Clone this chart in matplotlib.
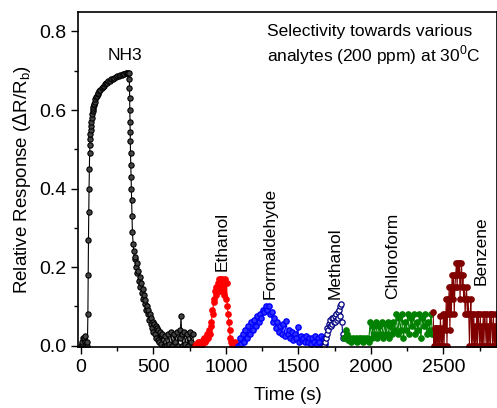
import matplotlib.pyplot as plt
import numpy as np

plt.rcParams['font.family'] = ['Liberation Sans', 'DejaVu Sans']

# NH3 (explicit times, s)
nh3_t = [0, 5, 10, 15, 20, 25, 30, 35, 40, 45, 48, 50, 52, 54, 56, 58, 60, 62, 64, 66, 68,
         70, 72, 75, 78, 80, 83, 85, 88, 90, 95, 100, 105, 110, 115, 120, 128, 135, 143,
         150, 158, 165, 173, 180, 190, 200, 210, 220, 230, 240, 250, 260, 270, 280, 290,
         300, 308, 315, 323, 330, 334, 335, 336, 337, 338, 339, 340, 342, 344, 346, 348,
         350, 352, 355, 360, 365, 370, 375, 380, 385, 390, 395, 400, 405, 410, 415, 420,
         425, 430, 435, 440, 445, 450, 455, 460, 465, 470, 475, 480, 485, 490, 495, 500,
         505, 510, 515, 520, 525, 530, 535, 540, 545, 550, 560, 570, 580, 590, 600, 610,
         620, 630, 640, 650, 660, 670, 680, 685, 690, 695, 700, 710, 720, 730, 740, 750,
         760, 770, 780]
nh3_r = [0.0, 0.005, 0.01, 0.02, 0.02, 0.025, 0.01, 0.005, 0.0, 0.01, 0.08, 0.18, 0.27,
         0.34, 0.40, 0.45, 0.49, 0.51, 0.525, 0.54, 0.55, 0.56, 0.57, 0.58, 0.59, 0.597,
         0.603, 0.607, 0.612, 0.615, 0.621, 0.627, 0.632, 0.636, 0.64, 0.643, 0.648, 0.652,
         0.656, 0.659, 0.662, 0.665, 0.668, 0.67, 0.673, 0.675, 0.678, 0.68, 0.682, 0.684,
         0.686, 0.687, 0.689, 0.69, 0.691, 0.692, 0.693, 0.693, 0.694, 0.695, 0.68, 0.655,
         0.63, 0.60, 0.57, 0.545, 0.52, 0.49, 0.46, 0.43, 0.40, 0.37, 0.33, 0.29, 0.26,
         0.24, 0.22, 0.225, 0.20, 0.21, 0.185, 0.19, 0.165, 0.175, 0.15, 0.16, 0.135,
         0.145, 0.12, 0.13, 0.105, 0.115, 0.09, 0.10, 0.08, 0.09, 0.065, 0.08, 0.055, 0.07,
         0.045, 0.06, 0.035, 0.055, 0.03, 0.05, 0.02, 0.045, 0.015, 0.04, 0.01, 0.035,
         0.005, 0.03, 0.0, 0.025, 0.0, 0.03, 0.005, 0.035, 0.0, 0.03, 0.01, 0.035, 0.0,
         0.04, 0.02, 0.075, 0.03, 0.0, 0.035, 0.005, 0.03, 0.0, 0.035, 0.01, 0.03, 0.0]

# the others are sampled at a fixed step from a start time
eth_start, eth_step = 790, 5
eth_r = [0.0, 0.005, 0.0, 0.01, 0.0, 0.005, 0.01, 0.0, 0.01, 0.005, 0.015, 0.01, 0.02,
         0.01, 0.02, 0.015, 0.03, 0.02, 0.03, 0.04, 0.03, 0.06, 0.05, 0.09, 0.08, 0.12,
         0.11, 0.14, 0.13, 0.15, 0.14, 0.16, 0.15, 0.17, 0.14, 0.17, 0.15, 0.17, 0.14,
         0.16, 0.13, 0.17, 0.12, 0.16, 0.10, 0.08, 0.06, 0.04, 0.02, 0.01, 0.0, 0.01, 0.0,
         0.005, 0.0, 0.01, 0.0, 0.005, 0.0]

form_start, form_step = 1085, 10
form_r = [0.0, 0.02, 0.005, 0.03, 0.01, 0.04, 0.02, 0.05, 0.03, 0.06, 0.04, 0.065, 0.05,
          0.075, 0.06, 0.08, 0.07, 0.09, 0.085, 0.10, 0.09, 0.10, 0.08, 0.085, 0.06, 0.07,
          0.045, 0.06, 0.035, 0.05, 0.03, 0.055, 0.025, 0.063, 0.03, 0.04, 0.02, 0.035,
          0.015, 0.03, 0.02, 0.048, 0.01, 0.025, 0.015, 0.02, 0.01, 0.025, 0.01, 0.02,
          0.005, 0.02, 0.01, 0.025, 0.005, 0.02, 0.01, 0.025, 0.0, 0.02, 0.005]

meth_start, meth_step = 1680, 5
meth_r = [0.0, 0.01, 0.02, 0.03, 0.045, 0.04, 0.055, 0.05, 0.065, 0.05, 0.07, 0.055, 0.07,
          0.06, 0.075, 0.06, 0.08, 0.065, 0.085, 0.07, 0.09, 0.075, 0.10, 0.105, 0.06,
          0.03, 0.02]

chl_start, chl_step = 1815, 10
chl_r = [0.02, 0.04, 0.03, 0.015, 0.02, 0.01, 0.02, 0.015, 0.02, 0.01, 0.02, 0.015, 0.02,
         0.01, 0.02, 0.015, 0.02, 0.01, 0.06, 0.02, 0.05, 0.03, 0.06, 0.02, 0.05, 0.03,
         0.06, 0.02, 0.055, 0.03, 0.06, 0.02, 0.05, 0.03, 0.06, 0.04, 0.08, 0.03, 0.07,
         0.04, 0.08, 0.02, 0.06, 0.04, 0.08, 0.03, 0.07, 0.05, 0.08, 0.03, 0.06, 0.04,
         0.08, 0.02, 0.07, 0.05, 0.08, 0.03, 0.06, 0.04, 0.08, 0.03]

benz_start, benz_step = 2430, 5
benz_r = [0.085, 0.0, 0.045, 0.0, 0.045, 0.0, 0.045, 0.0, 0.045, 0.0, 0.075, 0.0, 0.045, 0.0,
          0.08, 0.0, 0.08, 0.04, 0.12, 0.0, 0.12, 0.08, 0.15, 0.04, 0.15, 0.08, 0.18, 0.12,
          0.18, 0.08, 0.15, 0.18, 0.21, 0.15, 0.21, 0.18, 0.21, 0.12, 0.18, 0.21, 0.15,
          0.18, 0.12, 0.15, 0.08, 0.12, 0.15, 0.08, 0.12, 0.08, 0.0, 0.08, 0.12, 0.0, 0.08,
          0.0, 0.08, 0.0, 0.05, 0.0, 0.08, 0.0, 0.08, 0.05, 0.0, 0.08, 0.0, 0.05, 0.0, 0.08,
          0.0, 0.08, 0.05, 0.0, 0.08, 0.0, 0.05, 0.0, 0.08, 0.0, 0.08, 0.05, 0.0, 0.08, 0.0,
          0.05, 0.0, 0.08, 0.0]

labels = ['NH3', 'Ethanol', 'Formaldehyde', 'Methanol', 'Chloroform', 'Benzene']
label_x = [305, 975, 1305, 1755, 2150, 2760]
label_y = [0.74, 0.19, 0.12, 0.12, 0.12, 0.155]


def times(start, step, vals):
    return start + step * np.arange(len(vals))


fig = plt.figure(figsize=(4.97, 4.08), dpi=100)
ax = fig.add_axes([0.157, 0.149, 0.843, 0.822])

ms = 3.8
ax.plot(nh3_t, nh3_r, '-o', color='black', lw=0.8, ms=ms, mfc='#444444', mec='black', mew=0.8)
ax.plot(times(eth_start, eth_step, eth_r), eth_r, '-o', color='#ff0000', lw=0.8, ms=ms)
ax.plot(times(form_start, form_step, form_r), form_r, '-o', color='#0000ff', lw=0.8, ms=ms,
        mfc='#3030ff')
ax.plot(times(meth_start, meth_step, meth_r), meth_r, '-o', color='#000080', lw=0.8, ms=ms,
        mfc='white', mec='#000080', mew=0.9)
ax.plot(times(chl_start, chl_step, chl_r), chl_r, '-o', color='#008000', lw=0.8, ms=ms)
ax.plot(times(benz_start, benz_step, benz_r), benz_r, '-o', color='#800000', lw=0.8, ms=ms)

ax.text(label_x[0], label_y[0], labels[0], fontsize=12.5, ha='center', va='center')
for name, x, y in zip(labels[1:], label_x[1:], label_y[1:]):
    ax.text(x, y, name, fontsize=12.5, rotation=90, ha='center', va='bottom')

ax.text(1285, 0.82, 'Selectivity towards various\nanalytes (200 ppm) at 30$^\\mathregular{0}$C',
        fontsize=12.5, ha='left', va='top', linespacing=1.25)

ax.set_xlim(-20, 2870)
ax.set_ylim(-0.004, 0.85)
ax.set_xticks([0, 500, 1000, 1500, 2000, 2500])
ax.set_xticks(np.arange(250, 2870, 500), minor=True)
ax.set_yticks([0.0, 0.2, 0.4, 0.6, 0.8])
ax.set_yticks([0.1, 0.3, 0.5, 0.7], minor=True)
ax.yaxis.set_major_formatter(plt.FormatStrFormatter('%.1f'))
ax.tick_params(which='both', direction='out', labelsize=14, width=1)
ax.tick_params(which='major', length=5)
ax.tick_params(which='minor', length=3)
for s in ax.spines.values():
    s.set_linewidth(1.2)

ax.set_xlabel('Time (s)', fontsize=13.5, labelpad=8)
ax.set_ylabel('Relative Response ($\\Delta$R/R$_\\mathregular{b}$)', fontsize=13.5)

plt.savefig('out.png', dpi=100)
